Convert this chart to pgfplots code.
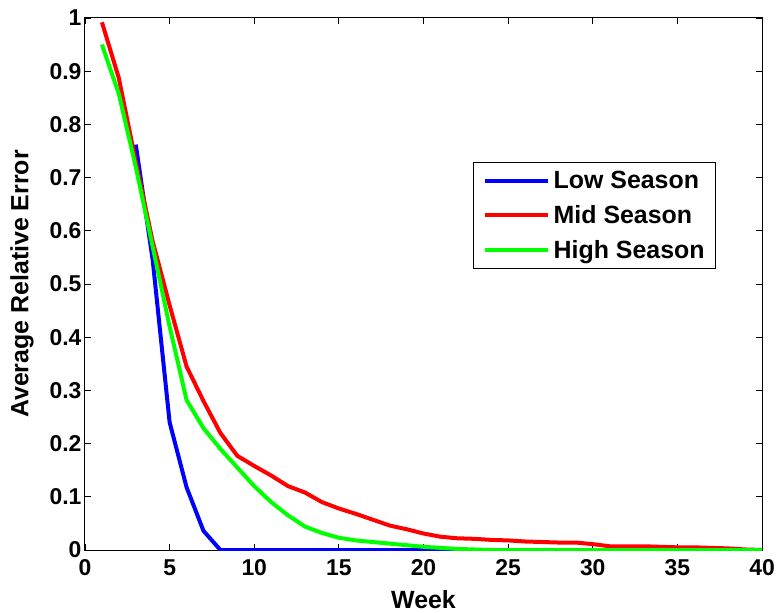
\documentclass[border=0pt]{standalone}
\usepackage{pgfplots}
\pgfplotsset{compat=1.18}
\usepackage{fontspec}
\setmainfont{Liberation Sans}
\begin{document}
\begin{tikzpicture}
\path[use as bounding box] (-85bp,-63bp) rectangle (693bp,550bp);
\begin{axis}[
  scale only axis,
  width=677bp, height=532bp,
  xmin=0, xmax=40, ymin=0, ymax=1,
  xtick={0,5,...,40},
  ytick={0,0.1,...,1},
  yticklabels={0,0.1,0.2,0.3,0.4,0.5,0.6,0.7,0.8,0.9,1},
  /pgf/number format/assume math mode=true,
  tick align=inside,
  major tick length=6bp,
  axis line style={line width=1bp},
  every tick/.style={black, line width=0.8bp},
  tick label style={font=\fontsize{23}{27}\selectfont\bfseries},
  xticklabel style={yshift=-6bp},
  label style={font=\fontsize{25}{29}\selectfont\bfseries},
  xlabel={Week},
  ylabel={Average Relative Error},
  xlabel style={at={(axis description cs:0.5,0)}, anchor=center, yshift=-50bp},
  ylabel style={at={(axis description cs:0,0.5)}, anchor=center, yshift=63bp},
  legend style={at={(rel axis cs:0.932,0.729)}, anchor=north east,
    draw=black, line width=0.8bp,
    inner xsep=9bp, inner ysep=7bp, row sep=11bp, column sep=2bp,
    cells={anchor=west, font=\fontsize{25}{29}\selectfont\bfseries}},
  legend image code/.code={\draw[#1, line width=4bp] (0bp,0bp) -- (63bp,0bp);},
  every axis plot/.append style={line width=4bp, line join=round},
]
\addplot[color={rgb,255:red,0;green,0;blue,255}] coordinates {
(3,0.762) (4,0.545) (5,0.24) (6,0.118) (7,0.036) (8,0) (40,0)};
\addlegendentry{Low Season}
\addplot[color={rgb,255:red,255;green,0;blue,0}] coordinates {
(1,0.992) (2,0.887) (3,0.73) (4,0.58) (5,0.46) (6,0.345) (7,0.28) (8,0.22)
(9,0.177) (10,0.158) (11,0.14) (12,0.12) (13,0.108) (14,0.09) (15,0.078)
(16,0.068) (17,0.057) (18,0.046) (19,0.039) (20,0.031) (21,0.025) (22,0.022)
(23,0.021) (24,0.019) (25,0.018) (26,0.016) (27,0.015) (28,0.014) (29,0.014)
(30,0.011) (31,0.007) (32,0.007) (33,0.007) (34,0.006) (35,0.005) (36,0.005)
(37,0.004) (38,0.003) (39,0.001) (40,0)};
\addlegendentry{Mid Season}
\addplot[color={rgb,255:red,0;green,255;blue,0}] coordinates {
(1,0.95) (2,0.857) (3,0.72) (4,0.57) (5,0.42) (6,0.282) (7,0.229) (8,0.19)
(9,0.155) (10,0.12) (11,0.09) (12,0.065) (13,0.044) (14,0.032) (15,0.023)
(16,0.018) (17,0.015) (18,0.012) (19,0.009) (20,0.006) (21,0.004) (22,0.002)
(23,0.001) (24,0) (40,0)};
\addlegendentry{High Season}
\end{axis}
\end{tikzpicture}
\end{document}
